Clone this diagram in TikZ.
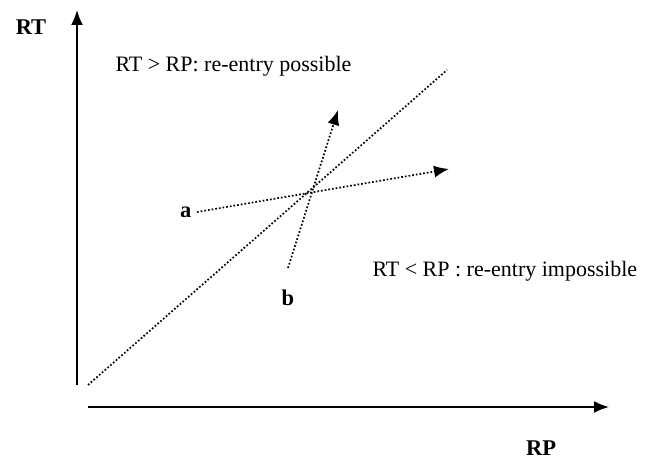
\documentclass[tikz,border=0pt]{standalone}
\usepackage{fontspec}
\setmainfont{Liberation Serif}
\usepackage{tikz}
\usetikzlibrary{arrows.meta,positioning}
\tikzset{
  axisline/.style={line width=1.8pt, -{Latex[length=15pt,width=12pt]}},
  pathline/.style={dotted, line width=1.7pt},
  patharrow/.style={pathline, -{Latex[length=15pt,width=12pt]}},
  lbl/.style={font=\fontsize{22.5}{26}\selectfont\bfseries},
  txt/.style={font=\fontsize{22}{26}\selectfont}
}
\begin{document}
\begin{tikzpicture}[x=1pt,y=-1pt]
\useasboundingbox (0,0) rectangle (653,470);
% axes
\coordinate (yo) at (77,385);
\coordinate (ytop) at (77,10);
\coordinate (xo) at (88,407);
\coordinate (xend) at (609,407);
\draw[axisline] (yo)--(ytop);
\draw[axisline] (xo)--(xend);
\node[lbl] (rt) at (31,27) {RT};
\node[lbl] (rp) at (541,448) {RP};

% RT = RP line
\coordinate (d0) at (88,385);
\coordinate (d1) at (447,70);
\draw[pathline] (d0)--(d1);

% paths a and b
\coordinate (a0) at (197,212);
\coordinate (a1) at (449,169);
\coordinate (b0) at (288,268);
\coordinate (b1) at (338,110);
\draw[patharrow] (a0)--(a1);
\draw[patharrow] (b0)--(b1);
\node[lbl, left=2pt of a0] (la) {a};
\node[lbl] (lb) at (288,298) {b};

\node[txt, anchor=west] (poss) at (112,66) {RT > RP: re-entry possible};
\node[txt, anchor=west] (imposs) at (369,271) {RT < RP : re-entry impossible};
\end{tikzpicture}
\end{document}
